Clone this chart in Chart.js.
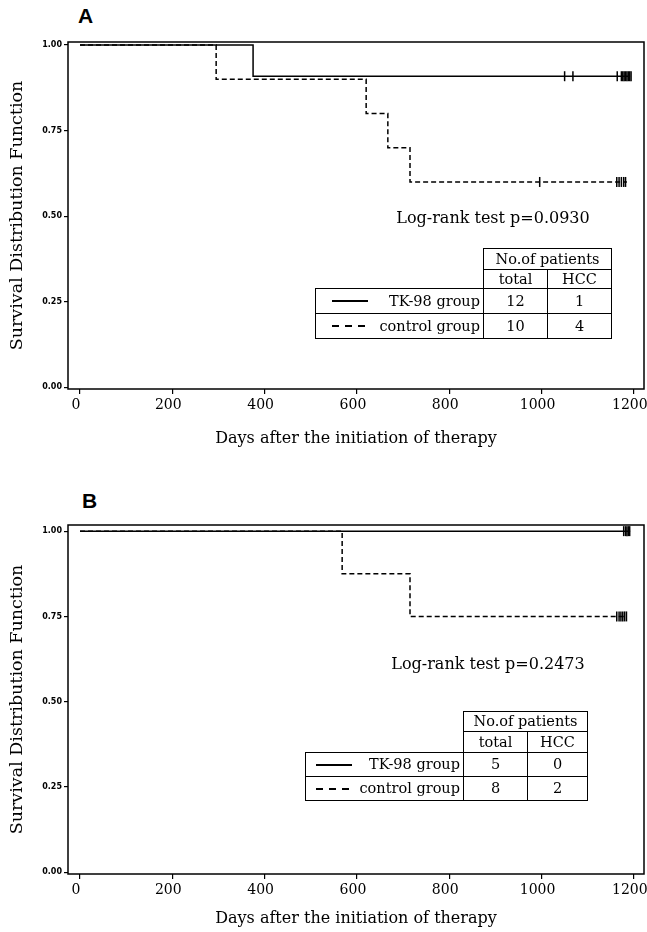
<!DOCTYPE html>
<html>
<head>
<meta charset="utf-8">
<script src="https://cdn.jsdelivr.net/npm/chart.js@4.4.1/dist/chart.umd.min.js"></script>
<style>
body { margin: 0; background: #fff; width: 647px; height: 932px; position: relative; overflow: hidden; font-family: "DejaVu Serif", serif; color: #000; }
.panel { position: absolute; left: 0; width: 647px; }
.letter { position: absolute; font: bold 21px "Liberation Sans", Arial, sans-serif; }
.logrank { position: absolute; font-size: 16px; transform: translate(-50%, -50%); white-space: nowrap; }
table.pt { position: absolute; border-collapse: collapse; table-layout: fixed; font-size: 14.5px; }
table.pt td { border: 1.5px solid #000; text-align: center; padding: 0; line-height: 1; white-space: nowrap; }
table.pt td.blank { border: none; }
.lab { display: flex; align-items: center; justify-content: space-between; padding: 0 3px 0 16px; }
.lab.b { padding-left: 10px; }
.solid { width: 36px; height: 2px; background: #000; }
.dash { width: 33px; height: 2px; background: repeating-linear-gradient(to right, #000 0 7px, transparent 7px 13px); }
</style>
</head>
<body>
<div class="letter" style="left:78px; top:4px;">A</div>
<div class="letter" style="left:82px; top:489px;">B</div>
<canvas id="chartA" class="panel" style="top:0px; height:460px;"></canvas>
<canvas id="chartB" class="panel" style="top:470px; height:462px;"></canvas>

<div class="logrank" style="left:493px; top:217px;">Log-rank test p=0.0930</div>
<div class="logrank" style="left:488px; top:663px;">Log-rank test p=0.2473</div>

<table class="pt" style="left:315px; top:248px;">
  <colgroup><col style="width:168px"><col style="width:64px"><col style="width:64px"></colgroup>
  <tr style="height:21px"><td class="blank"></td><td colspan="2">No.of patients</td></tr>
  <tr style="height:19px"><td class="blank"></td><td>total</td><td>HCC</td></tr>
  <tr style="height:25px"><td><div class="lab"><span class="solid"></span><span>TK-98 group</span></div></td><td>12</td><td>1</td></tr>
  <tr style="height:25px"><td><div class="lab"><span class="dash"></span><span>control group</span></div></td><td>10</td><td>4</td></tr>
</table>

<table class="pt" style="left:305px; top:711px;">
  <colgroup><col style="width:158px"><col style="width:64px"><col style="width:60px"></colgroup>
  <tr style="height:20px"><td class="blank"></td><td colspan="2">No.of patients</td></tr>
  <tr style="height:21px"><td class="blank"></td><td>total</td><td>HCC</td></tr>
  <tr style="height:24px"><td><div class="lab b"><span class="solid"></span><span>TK-98 group</span></div></td><td>5</td><td>0</td></tr>
  <tr style="height:24px"><td><div class="lab b"><span class="dash"></span><span>control group</span></div></td><td>8</td><td>2</td></tr>
</table>

<script>
// axis ticks
const xTicks = [0, 200, 400, 600, 800, 1000, 1200];
const yTicks = [0, 0.25, 0.5, 0.75, 1];

// panel A: step points (days, survival) and censor marks
const tkA_days = [0, 375, 1192];
const tkA_surv = [1, 0.909, 0.909];
const tkA_censor = [1050, 1068, 1164, 1173, 1176, 1179, 1182, 1185, 1188, 1191, 1194];
const tkA_censorSurv = 0.909;

const ctlA_days = [0, 295, 620, 667, 715, 1185];
const ctlA_surv = [1, 0.9, 0.8, 0.7, 0.6, 0.6];
const ctlA_censor = [996, 1163, 1168, 1173, 1178, 1182];
const ctlA_censorSurv = 0.6;

// panel B
const tkB_days = [0, 1192];
const tkB_surv = [1, 1];
const tkB_censor = [1178, 1182, 1185, 1188, 1191];
const tkB_censorSurv = 1;

const ctlB_days = [0, 568, 715, 1185];
const ctlB_surv = [1, 0.875, 0.75, 0.75];
const ctlB_censor = [1163, 1168, 1172, 1176, 1180, 1184];
const ctlB_censorSurv = 0.75;

const serif = "'DejaVu Serif', serif";

const frame = {
    id: "frame",
    afterDraw(chart) {
        const a = chart.chartArea, ctx = chart.ctx;
        ctx.save();
        ctx.strokeStyle = "#000";
        ctx.lineWidth = 1.5;
        ctx.strokeRect(a.left, a.top, a.right - a.left, a.bottom - a.top);
        ctx.restore();
    }
};

function curve(days, surv, dashed) {
    return {
        data: days.map((d, i) => ({ x: d, y: surv[i] })),
        stepped: true,
        borderColor: "#000",
        borderWidth: 1.5,
        borderDash: dashed ? [5, 3] : [],
        pointRadius: 0,
        fill: false
    };
}

function censor(days, level) {
    return {
        data: days.map(d => ({ x: d, y: level })),
        showLine: false,
        pointStyle: "line",
        rotation: 90,
        pointRadius: 5,
        borderColor: "#000",
        borderWidth: 1.5
    };
}

function makeChart(id, datasets, o) {
    return new Chart(document.getElementById(id), {
        type: "line",
        data: { datasets },
        plugins: [frame],
        options: {
            responsive: false,
            animation: false,
            layout: { autoPadding: false, padding: { top: o.padTop, right: 3, left: 0, bottom: 0 } },
            plugins: { legend: { display: false }, tooltip: { enabled: false } },
            scales: {
                x: {
                    type: "linear",
                    min: -26, max: 1222,
                    afterBuildTicks: s => { s.ticks = xTicks.map(v => ({ value: v })); },
                    afterFit: s => { s.height = o.xHeight; s.paddingLeft = 0; s.paddingRight = 0; },
                    ticks: { color: "#000", font: { family: serif, size: 14 }, padding: 3, maxRotation: 0, autoSkip: false,
                             labelOffset: -4, callback: v => String(v) },
                    grid: { drawOnChartArea: false, drawTicks: true, tickLength: 5, color: "#000", lineWidth: 1.2 },
                    border: { display: false },
                    title: { display: true, text: "Days after the initiation of therapy", color: "#000",
                             font: { family: serif, size: 16 }, padding: { top: 0, bottom: o.titlePad } }
                },
                y: {
                    min: o.yMin, max: o.yMax,
                    afterBuildTicks: s => { s.ticks = yTicks.map(v => ({ value: v })); },
                    afterFit: s => { s.width = 68; },
                    ticks: { color: "#000", font: { family: "'DejaVu Sans', sans-serif", size: 8, weight: "bold" }, padding: 2,
                             callback: v => v.toFixed(2) },
                    grid: { drawOnChartArea: false, drawTicks: true, tickLength: 4, color: "#000", lineWidth: 1.2 },
                    border: { display: false },
                    title: { display: true, text: "Survival Distribution Function", color: "#000",
                             font: { family: serif, size: 17.5 }, padding: { top: 7, bottom: 0 } }
                }
            }
        }
    });
}

document.getElementById("chartA").width = 647;
document.getElementById("chartA").height = 460;
document.getElementById("chartB").width = 647;
document.getElementById("chartB").height = 462;

makeChart("chartA", [
    curve(tkA_days, tkA_surv, false),
    curve(ctlA_days, ctlA_surv, true),
    censor(tkA_censor, tkA_censorSurv),
    censor(ctlA_censor, ctlA_censorSurv)
], { padTop: 42, xHeight: 71, titlePad: 12, yMin: -0.005, yMax: 1.009 });

makeChart("chartB", [
    curve(tkB_days, tkB_surv, false),
    curve(ctlB_days, ctlB_surv, true),
    censor(tkB_censor, tkB_censorSurv),
    censor(ctlB_censor, ctlB_censorSurv)
], { padTop: 55, xHeight: 58, titlePad: 4, yMin: -0.005, yMax: 1.018 });
</script>
</body>
</html>
